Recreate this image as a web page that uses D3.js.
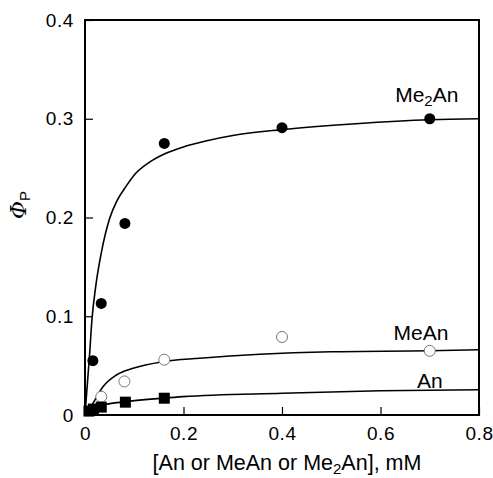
<!DOCTYPE html>
<html>
<head>
<meta charset="utf-8">
<script src="https://cdn.jsdelivr.net/npm/d3@7"></script>
<style>
  body { margin: 0; background: #fff; }
  svg text { font-family: "Liberation Sans", Arial, Helvetica, sans-serif; fill: #000; }
</style>
</head>
<body>
<script>
var width = 493, height = 478;
var margin = {top: 20, right: 14, bottom: 63, left: 85};

// measured points
var me2anX = [0.016, 0.033, 0.081, 0.161, 0.40, 0.70];
var me2anY = [0.055, 0.113, 0.194, 0.275, 0.291, 0.300];
var meanX = [0.033, 0.080, 0.161, 0.40, 0.70];
var meanY = [0.0185, 0.034, 0.056, 0.079, 0.065];
var anX = [0.008, 0.017, 0.033, 0.082, 0.161];
var anY = [0.004, 0.006, 0.008, 0.013, 0.017];

// fitted curves
var me2anFitX = [0, 0.0095, 0.014, 0.0217, 0.033, 0.05, 0.065, 0.084, 0.10, 0.131, 0.16, 0.197, 0.25, 0.30, 0.40, 0.55, 0.70, 0.80];
var me2anFitY = [0, 0.0625, 0.096, 0.130, 0.164, 0.199, 0.217, 0.232, 0.243, 0.256, 0.264, 0.271, 0.278, 0.283, 0.289, 0.295, 0.299, 0.300];
var meanFitX = [0, 0.016, 0.0365, 0.0636, 0.0975, 0.158, 0.233, 0.355, 0.50, 0.70, 0.80];
var meanFitY = [0, 0.0118, 0.0287, 0.0405, 0.0473, 0.054, 0.0574, 0.0615, 0.0640, 0.065, 0.066];
var anFitX = [0, 0.016, 0.0365, 0.084, 0.158, 0.199, 0.40, 0.60, 0.80];
var anFitY = [0, 0.005, 0.0101, 0.0135, 0.017, 0.0186, 0.022, 0.0245, 0.0255];

var xTicks = [0, 0.2, 0.4, 0.6, 0.8];
var yTicks = [0, 0.1, 0.2, 0.3, 0.4];

var svg = d3.select("body").append("svg")
    .attr("width", width)
    .attr("height", height);

var x = d3.scaleLinear().domain([0, 0.8]).range([margin.left, width - margin.right]);
var y = d3.scaleLinear().domain([0, 0.4]).range([height - margin.bottom, margin.top]);

function zip(xs, ys) { return xs.map(function(v, i) { return [v, ys[i]]; }); }
function fmt(d) { return d === 0 ? "0" : d3.format(".1f")(d); }

// axes (ticks inward)
svg.append("g")
    .attr("transform", "translate(0," + y(0) + ")")
    .call(d3.axisBottom(x).tickValues(xTicks).tickSizeInner(-8).tickSizeOuter(0).tickPadding(12).tickFormat(fmt))
    .call(function(g) {
        g.select(".domain").remove();
        g.selectAll("line").attr("stroke", "#000").attr("stroke-width", 1.2);
        g.selectAll("text").attr("font-size", 19).attr("letter-spacing", 0.6)
            .attr("font-family", "Liberation Sans, Arial, sans-serif");
    });

svg.append("g")
    .attr("transform", "translate(" + x(0) + ",0)")
    .call(d3.axisLeft(y).tickValues(yTicks).tickSizeInner(-8).tickSizeOuter(0).tickPadding(11).tickFormat(fmt))
    .call(function(g) {
        g.select(".domain").remove();
        g.selectAll("line").attr("stroke", "#000").attr("stroke-width", 1.2);
        g.selectAll("text").attr("font-size", 19).attr("letter-spacing", 0.6)
            .attr("font-family", "Liberation Sans, Arial, sans-serif");
    });

// frame
svg.append("rect")
    .attr("x", x(0)).attr("y", y(0.4))
    .attr("width", x(0.8) - x(0)).attr("height", y(0) - y(0.4))
    .attr("fill", "none").attr("stroke", "#000").attr("stroke-width", 2);

// curves
var line = d3.line()
    .x(function(d) { return x(d[0]); })
    .y(function(d) { return y(d[1]); })
    .curve(d3.curveMonotoneX);

[zip(me2anFitX, me2anFitY), zip(meanFitX, meanFitY), zip(anFitX, anFitY)].forEach(function(pts) {
    svg.append("path")
        .attr("d", line(pts))
        .attr("fill", "none")
        .attr("stroke", "#000")
        .attr("stroke-width", 1.6);
});

// markers
svg.selectAll("circle.me2an")
    .data(zip(me2anX, me2anY))
    .enter().append("circle")
    .attr("class", "me2an")
    .attr("cx", function(d) { return x(d[0]); })
    .attr("cy", function(d) { return y(d[1]); })
    .attr("r", 5.5)
    .attr("fill", "#000");

svg.selectAll("circle.mean")
    .data(zip(meanX, meanY))
    .enter().append("circle")
    .attr("class", "mean")
    .attr("cx", function(d) { return x(d[0]); })
    .attr("cy", function(d) { return y(d[1]); })
    .attr("r", 5.5)
    .attr("fill", "#fff")
    .attr("stroke", "#777")
    .attr("stroke-width", 1);

svg.selectAll("rect.an")
    .data(zip(anX, anY))
    .enter().append("rect")
    .attr("class", "an")
    .attr("x", function(d) { return x(d[0]) - 5.5; })
    .attr("y", function(d) { return y(d[1]) - 5.5; })
    .attr("width", 11)
    .attr("height", 11)
    .attr("fill", "#000");

// series labels
var me2anLab = svg.append("text")
    .attr("x", x(0.694)).attr("y", y(0.317))
    .attr("text-anchor", "middle").attr("font-size", 21);
me2anLab.append("tspan").text("Me");
me2anLab.append("tspan").text("2").attr("font-size", 15).attr("dy", 4);
me2anLab.append("tspan").text("An").attr("dy", -4);

svg.append("text")
    .attr("x", x(0.682)).attr("y", y(0.076))
    .attr("text-anchor", "middle").attr("font-size", 21)
    .text("MeAn");

svg.append("text")
    .attr("x", x(0.70)).attr("y", y(0.0275))
    .attr("text-anchor", "middle").attr("font-size", 21)
    .text("An");

// axis titles
var xt = svg.append("text")
    .attr("x", (x(0) + x(0.8)) / 2 + 5).attr("y", 470)
    .attr("text-anchor", "middle").attr("font-size", 21.5);
xt.append("tspan").text("[An or MeAn or Me");
xt.append("tspan").text("2").attr("font-size", 15).attr("dy", 4);
xt.append("tspan").text("An], mM").attr("dy", -4);

var yt = svg.append("text")
    .attr("transform", "translate(26," + 205 + ") rotate(-90)")
    .attr("text-anchor", "middle").attr("font-size", 22);
yt.append("tspan").text("Φ").attr("font-style", "italic").attr("font-family", "DejaVu Serif, serif");
yt.append("tspan").text("P").attr("font-size", 15).attr("dy", 4);
</script>
</body>
</html>
